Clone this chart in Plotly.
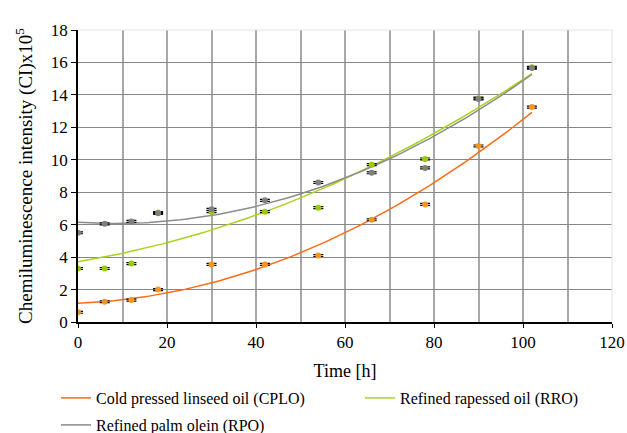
import numpy as np
import plotly.graph_objects as go

time_h = [0, 6, 12, 18, 30, 42, 54, 66, 78, 90, 102]
cplo = [0.6, 1.25, 1.35, 2.0, 3.55, 3.55, 4.1, 6.3, 7.25, 10.85, 13.25]
rro = [3.3, 3.3, 3.6, 6.75, 6.8, 6.8, 7.05, 9.7, 10.05, 13.8, 15.7]
rpo = [5.5, 6.05, 6.2, 6.7, 6.95, 7.5, 8.6, 9.2, 9.5, 13.75, 15.65]
err = [0.06] * len(time_h)

names = ["Cold pressed linseed oil (CPLO)", "Refined rapessed oil (RRO)", "Refined palm olein (RPO)"]
legend_ids = ["legend", "legend2", "legend3"]
line_colors = ["#FF6A13", "#A8D41A", "#8C8C8C"]
marker_colors = ["#F7941D", "#99CC00", "#808080"]
series = [cplo, rro, rpo]

W, H = 627, 433

fig = go.Figure()
xfit = np.linspace(0, 102, 103)
for name, ys, lc, lg in zip(names, series, line_colors, legend_ids):
    coef = np.polyfit(time_h, ys, 2)
    fig.add_trace(go.Scatter(x=xfit, y=np.polyval(coef, xfit), mode="lines",
                             line=dict(color=lc, width=1.5), name=name, legend=lg))
for ys, mc in zip(series, marker_colors):
    fig.add_trace(go.Scatter(x=time_h, y=ys, mode="markers", showlegend=False,
                             marker=dict(color=mc, size=6),
                             error_y=dict(type="data", array=err, color="black",
                                          thickness=1.2, width=5)))

font = "Liberation Serif"
grid_v = "#A8A8A8"
leg_common = dict(orientation="h", xref="container", yref="container",
                  xanchor="left", yanchor="middle",
                  font=dict(size=16, family=font), bgcolor="rgba(0,0,0,0)")
fig.update_layout(
    width=W, height=H,
    margin=dict(l=78, r=15, t=30, b=111),
    paper_bgcolor="white", plot_bgcolor="white",
    font=dict(family=font, color="black", size=17),
    xaxis=dict(range=[0, 120], tickvals=[0, 20, 40, 60, 80, 100, 120],
               showgrid=True, gridcolor=grid_v, gridwidth=1.5,
               minor=dict(dtick=10, showgrid=True, gridcolor=grid_v, gridwidth=1.5, ticks=""),
               zeroline=False, automargin=False,
               showline=True, linecolor="black", linewidth=1.5,
               ticks="outside", ticklen=4, tickcolor="black",
               title=dict(text="Time [h]", font=dict(size=18, family=font), standoff=22),
               tickfont=dict(size=17, family=font)),
    yaxis=dict(range=[0, 18], dtick=2, showgrid=True, gridcolor="#888888", gridwidth=1,
               zeroline=False, showline=True, linecolor="black", linewidth=1.5,
               automargin=False,
               ticks="outside", ticklen=5, tickcolor="black",
               title=dict(text="Chemiluminescence intensity (CI)x10<sup>5</sup>",
                          font=dict(size=19, family=font), standoff=13),
               tickfont=dict(size=17, family=font)),
    legend=dict(x=56 / W, y=1 - 398 / H, **leg_common),
    legend2=dict(x=360 / W, y=1 - 398 / H, **leg_common),
    legend3=dict(x=56 / W, y=1 - 425 / H, **leg_common),
    showlegend=True,
)
# light frame top/right
fig.add_shape(type="line", xref="paper", yref="paper", x0=0, x1=1, y0=1, y1=1,
              line=dict(color="#E4E4E4", width=1))
fig.add_shape(type="line", xref="paper", yref="paper", x0=1, x1=1, y0=0, y1=1,
              line=dict(color="#E4E4E4", width=1))

fig.write_html("out.html", config={"displayModeBar": False},
               post_script="document.body.style.margin='0';document.body.style.overflow='hidden';")
